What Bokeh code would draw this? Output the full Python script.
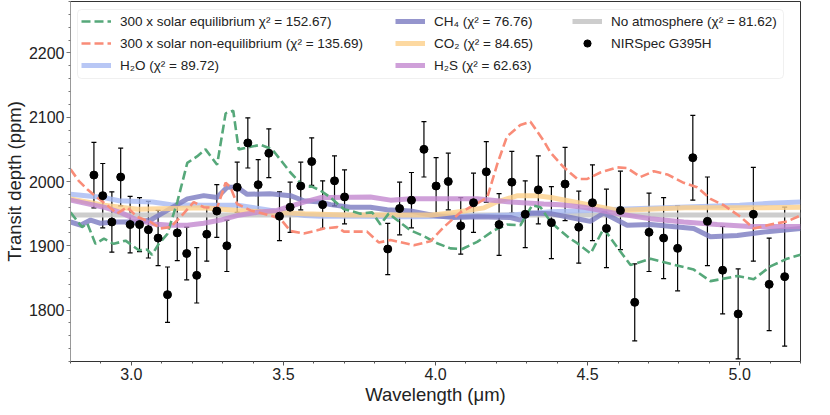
from bokeh.plotting import figure
from bokeh.models import (ColumnDataSource, Range1d, SingleIntervalTicker, PrintfTickFormatter,
                          Legend, LegendItem, Whisker, TeeHead, BoxAnnotation)
from bokeh.embed import file_html
from bokeh.resources import INLINE

# ---- observed data (NIRSpec G395H) ----
wl = [2.877, 2.906, 2.936, 2.965, 2.996, 3.027, 3.056, 3.088, 3.119, 3.151, 3.182, 3.215, 3.248,
      3.281, 3.314, 3.348, 3.383, 3.417, 3.452, 3.487, 3.522, 3.557, 3.593, 3.629, 3.668, 3.701,
      3.843, 3.882, 3.921, 3.962, 4.002, 4.042, 4.083, 4.125, 4.167, 4.209, 4.251, 4.295, 4.338,
      4.381, 4.426, 4.471, 4.516, 4.562, 4.608, 4.655, 4.702, 4.750, 4.796, 4.846, 4.894, 4.944,
      4.995, 5.045, 5.097, 5.148]
depth = [2010, 1978, 1937, 2007, 1933, 1933, 1925, 1912, 1824, 1920, 1888, 1854, 1918, 1954,
         1900, 1991, 2060, 1995, 2044, 1946, 1960, 1993, 2031, 1964, 2001, 1976, 1895, 1958,
         1971, 2050, 1993, 2000, 1931, 1967, 2015, 1933, 1999, 1949, 1987, 1936, 1996, 1929,
         1967, 1927, 1955, 1812, 1921, 1912, 1896, 2037, 1938, 1862, 1794, 1949, 1840, 1852]
err = [51, 50, 47, 45, 44, 42, 44, 43, 43, 43, 41, 43, 42, 41, 40, 39, 39, 39, 38, 38, 39, 37,
       37, 37, 39, 42, 40, 41, 43, 43, 44, 44, 44, 46, 47, 48, 48, 52, 53, 56, 57, 56, 59, 61,
       61, 60, 61, 63, 66, 66, 69, 68, 70, 73, 72, 108]

# ---- models ----
eq_wl = [2.800, 2.838, 2.855, 2.882, 2.910, 2.942, 2.981, 3.025, 3.052, 3.068, 3.090, 3.118,
         3.151, 3.184, 3.216, 3.244, 3.282, 3.310, 3.335, 3.353, 3.392, 3.425, 3.463, 3.490,
         3.523, 3.567, 3.594, 3.622, 3.655, 3.699, 3.753, 3.792, 3.819, 3.846, 3.918, 3.962,
         4.005, 4.049, 4.088, 4.137, 4.192, 4.235, 4.279, 4.318, 4.345, 4.378, 4.400, 4.440,
         4.466, 4.510, 4.553, 4.597, 4.641, 4.707, 4.772, 4.849, 4.904, 4.992, 5.046, 5.101,
         5.156, 5.200]
eq_val = [1952, 1929, 1935, 1903, 1911, 1903, 1908, 1893, 1894, 1886, 1903, 1918, 1968, 2029,
          2039, 2050, 2026, 2106, 2110, 2050, 2054, 2057, 2050, 2034, 2014, 1992, 1992, 1986,
          1975, 1957, 1950, 1952, 1933, 1950, 1924, 1915, 1904, 1896, 1895, 1906, 1924, 1933,
          1932, 1963, 1960, 1938, 1928, 1912, 1904, 1888, 1927, 1898, 1870, 1880, 1872, 1863,
          1845, 1853, 1848, 1868, 1880, 1886]

neq_wl = [2.800, 2.827, 2.855, 2.888, 2.921, 2.953, 2.986, 3.019, 3.063, 3.096, 3.129, 3.162,
          3.205, 3.238, 3.282, 3.310, 3.326, 3.348, 3.392, 3.457, 3.490, 3.523, 3.567, 3.611,
          3.633, 3.677, 3.699, 3.775, 3.814, 3.852, 3.929, 3.983, 4.027, 4.082, 4.137, 4.170,
          4.203, 4.235, 4.279, 4.312, 4.356, 4.378, 4.422, 4.466, 4.499, 4.542, 4.597, 4.630,
          4.674, 4.718, 4.762, 4.816, 4.860, 4.904, 4.948, 5.003, 5.046, 5.101, 5.156, 5.200]
neq_val = [2019, 2001, 1988, 1975, 1963, 1950, 1960, 1945, 1937, 1927, 1929, 1945, 1968, 1960,
           1959, 1998, 1991, 1965, 1955, 1947, 1942, 1923, 1919, 1924, 1927, 1929, 1922, 1922,
           1905, 1909, 1901, 1907, 1929, 1952, 1966, 1975, 2027, 2070, 2088, 2093, 2063, 2045,
           2022, 2004, 2004, 2014, 2022, 2021, 2007, 2016, 2011, 1998, 1991, 1973, 1963, 1945,
           1927, 1933, 1938, 1947]

h2o_wl = [2.80, 2.91, 2.96, 3.07, 3.13, 3.24, 3.35, 3.46, 3.57, 3.62, 3.75, 3.90, 4.10, 4.25,
          4.38, 4.50, 4.60, 4.80, 5.00, 5.10, 5.20]
h2o_val = [1980, 1975, 1970, 1968, 1964, 1963, 1963, 1955, 1947, 1946, 1946, 1945, 1946, 1948,
           1953, 1955, 1957, 1960, 1963, 1966, 1968]

co2_wl = [2.80, 2.91, 3.02, 3.24, 3.35, 3.46, 3.57, 3.70, 3.90, 3.99, 4.05, 4.16, 4.20, 4.27,
          4.33, 4.38, 4.49, 4.60, 4.82, 5.04, 5.20]
co2_val = [1973, 1963, 1957, 1959, 1955, 1952, 1950, 1948, 1948, 1948, 1951, 1959, 1968, 1978,
           1978, 1975, 1965, 1955, 1959, 1959, 1960]

ch4_wl = [2.800, 2.833, 2.866, 2.899, 2.942, 3.019, 3.063, 3.118, 3.184, 3.238, 3.282, 3.315,
          3.348, 3.381, 3.457, 3.523, 3.567, 3.622, 3.655, 3.720, 3.786, 3.841, 3.918, 3.994,
          4.060, 4.137, 4.247, 4.279, 4.312, 4.378, 4.444, 4.509, 4.553, 4.630, 4.707, 4.849,
          4.904, 4.992, 5.090, 5.200]
ch4_val = [1937, 1932, 1940, 1935, 1937, 1937, 1940, 1955, 1973, 1978, 1975, 1991, 1991, 1980,
           1981, 1978, 1970, 1968, 1964, 1960, 1960, 1956, 1954, 1947, 1944, 1945, 1944, 1940,
           1951, 1950, 1944, 1938, 1951, 1932, 1933, 1927, 1914, 1916, 1922, 1927]

h2s_wl = [2.80, 2.91, 2.964, 3.019, 3.074, 3.129, 3.184, 3.238, 3.293, 3.348, 3.414, 3.479,
          3.567, 3.622, 3.655, 3.786, 3.852, 3.918, 4.027, 4.137, 4.247, 4.356, 4.411, 4.488,
          4.597, 4.707, 4.816, 4.926, 5.035, 5.20]
h2s_val = [1971, 1960, 1952, 1940, 1934, 1932, 1932, 1935, 1940, 1947, 1952, 1955, 1968, 1975,
           1975, 1976, 1971, 1973, 1973, 1973, 1968, 1965, 1964, 1960, 1950, 1942, 1937, 1933,
           1930, 1930]

noatm_wl = [2.80, 5.20]
noatm_val = [1948, 1948]

labels_col1 = ["300 x solar equilibrium \u03c7\u00b2 = 152.67)",
               "300 x solar non-equilibrium (\u03c7\u00b2 = 135.69)",
               "H\u2082O (\u03c7\u00b2 = 89.72)"]
labels_col2 = ["CH\u2084 (\u03c7\u00b2 = 76.76)", "CO\u2082 (\u03c7\u00b2 = 84.65)",
               "H\u2082S (\u03c7\u00b2 = 62.63)"]
labels_col3 = ["No atmosphere (\u03c7\u00b2 = 81.62)", "NIRSpec G395H"]

FONT = "Liberation Sans"
FH = 360

p = figure(frame_width=730, frame_height=FH, output_backend="svg", toolbar_location=None,
           x_range=Range1d(2.8, 5.2), y_range=Range1d(1720, 2280),
           min_border_top=1, min_border_right=18, min_border_left=5, min_border_bottom=5)
p.background_fill_color = "white"
p.border_fill_color = "white"
p.outline_line_color = "#333333"
p.outline_line_width = 1
p.xgrid.visible = False
p.ygrid.visible = False

# thick model lines
r_noatm = p.line(noatm_wl, noatm_val, line_color="#c8c8c8", line_width=5, line_alpha=0.9)
r_h2o = p.line(h2o_wl, h2o_val, line_color="#a6b9f2", line_width=5, line_alpha=0.8)
r_ch4 = p.line(ch4_wl, ch4_val, line_color="#7b7bc0", line_width=5, line_alpha=0.8)
r_co2 = p.line(co2_wl, co2_val, line_color="#fdd08a", line_width=5, line_alpha=0.8)
r_h2s = p.line(h2s_wl, h2s_val, line_color="#c388cf", line_width=5, line_alpha=0.8)
r_eq = p.line(eq_wl, eq_val, line_color="#56a87a", line_width=2.6, line_dash="9 4")
r_neq = p.line(neq_wl, neq_val, line_color="#f98c78", line_width=2.6, line_dash="9 4")

src = ColumnDataSource(dict(wl=wl, depth=depth,
                            up=[d + e for d, e in zip(depth, err)],
                            lo=[d - e for d, e in zip(depth, err)]))
wh = Whisker(source=src, base="wl", upper="up", lower="lo", line_color="black", line_width=1.2,
             upper_head=TeeHead(size=5, line_color="black", line_width=1.2),
             lower_head=TeeHead(size=5, line_color="black", line_width=1.2))
p.add_layout(wh)
r_obs = p.scatter("wl", "depth", source=src, size=8, fill_color="black", line_color="black")

# axes
p.xaxis.ticker = SingleIntervalTicker(interval=0.5, num_minor_ticks=5)
p.yaxis.ticker = SingleIntervalTicker(interval=100, num_minor_ticks=5)
p.xaxis.formatter = PrintfTickFormatter(format="%.1f")
p.xaxis.axis_label = "Wavelength (\u03bcm)"
p.yaxis.axis_label = "Transit depth (ppm)"
for ax in (p.xaxis, p.yaxis):
    ax.major_label_text_font = FONT
    ax.major_label_text_font_size = "16px"
    ax.major_label_text_color = "#222222"
    ax.axis_label_text_font = FONT
    ax.axis_label_text_font_size = "18.5px"
    ax.axis_label_text_font_style = "normal"
    ax.axis_label_text_color = "#222222"
    ax.major_tick_in = 0
    ax.major_tick_out = 4
    ax.minor_tick_in = 0
    ax.minor_tick_out = 2
    ax.major_label_standoff = 2
    ax.axis_label_standoff = 1
p.xaxis.axis_line_color = "#333333"
p.yaxis.axis_line_color = "#999999"
p.yaxis.major_tick_line_color = "#777777"
p.yaxis.minor_tick_line_color = "#777777"
p.xaxis.major_tick_line_color = "#555555"
p.xaxis.minor_tick_line_color = "#555555"

# legend frame
box = BoxAnnotation(left=7, right=713, top=FH - 8, bottom=FH - 8 - 69,
                    left_units="screen", right_units="screen", top_units="screen",
                    bottom_units="screen", fill_color="white", fill_alpha=0.85,
                    line_color="#cccccc", line_width=1, border_radius=4)
p.add_layout(box)

ROWH = 18
SP = 4
def make_legend(items, x, nrows):
    h = nrows * ROWH + (nrows - 1) * SP
    lg = Legend(items=items, location=(x, FH - 11 - h), orientation="vertical",
                padding=0, spacing=SP, glyph_width=30, glyph_height=ROWH, label_height=ROWH,
                label_standoff=9, label_text_font=FONT, label_text_font_size="13.5px",
                label_text_color="#222222", border_line_alpha=0, background_fill_alpha=0,
                margin=0)
    p.add_layout(lg, "center")

make_legend([LegendItem(label=labels_col1[0], renderers=[r_eq]),
             LegendItem(label=labels_col1[1], renderers=[r_neq]),
             LegendItem(label=labels_col1[2], renderers=[r_h2o])], 11, 3)
make_legend([LegendItem(label=labels_col2[0], renderers=[r_ch4]),
             LegendItem(label=labels_col2[1], renderers=[r_co2]),
             LegendItem(label=labels_col2[2], renderers=[r_h2s])], 325, 3)
make_legend([LegendItem(label=labels_col3[0], renderers=[r_noatm]),
             LegendItem(label=labels_col3[1], renderers=[r_obs])], 502, 2)

open("out.html", "w").write(file_html(p, INLINE))
